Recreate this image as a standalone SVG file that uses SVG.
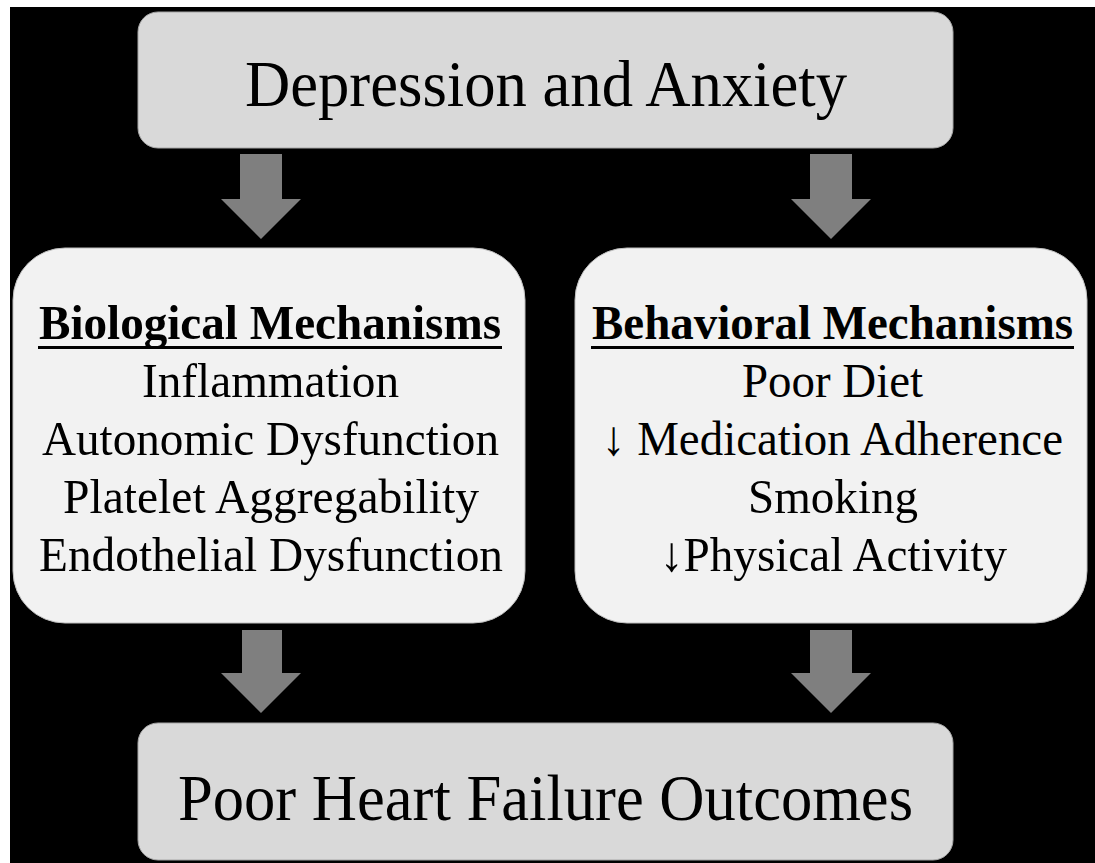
<svg xmlns="http://www.w3.org/2000/svg" width="1095" height="863" viewBox="0 0 1095 863">
<style>
.outer{fill:#d9d9d9;stroke:#a6a6a6;stroke-width:1}
.inner{fill:#f2f2f2;stroke:#bfbfbf;stroke-width:1}
.big{font-family:"Liberation Serif","Times New Roman",serif;font-size:66px;fill:#000;text-anchor:middle}
.mid{font-family:"Liberation Serif","Times New Roman",serif;font-size:49px;fill:#000;text-anchor:middle}
.hd{font-weight:bold}
.arrow{fill:#7f7f7f}
</style>
<rect x="0" y="0" width="1095" height="863" fill="#ffffff"/>
<rect x="10" y="7" width="1085" height="856" fill="#000000"/>
<g id="connectors">
<polygon class="arrow" points="240,154 282,154 282,199 301,199 261,239 221,199 240,199"/>
<polygon class="arrow" points="810,154 852,154 852,199 871,199 831,239 791,199 810,199"/>
<polygon class="arrow" points="242,630 282,630 282,673 301,673 261,713 221,673 242,673"/>
<polygon class="arrow" points="810,630 852,630 852,673 871,673 831,713 791,673 810,673"/>
</g>
<g id="depression-anxiety">
<rect class="outer" x="138" y="12" width="815" height="136" rx="20" ry="20"/>
<text class="big" x="546" y="106" textLength="602" lengthAdjust="spacingAndGlyphs">Depression and Anxiety</text>
</g>
<g id="biological-mechanisms">
<rect class="inner" x="13" y="248" width="512" height="375" rx="52" ry="52"/>
<text class="mid hd" x="270" y="339" textLength="462" lengthAdjust="spacingAndGlyphs">Biological Mechanisms</text>
<rect x="38" y="346" width="464" height="3" fill="#000"/>
<text class="mid" x="270.5" y="397" textLength="257" lengthAdjust="spacingAndGlyphs">Inflammation</text>
<text class="mid" x="270.5" y="455" textLength="457" lengthAdjust="spacingAndGlyphs">Autonomic Dysfunction</text>
<text class="mid" x="271" y="513" textLength="416" lengthAdjust="spacingAndGlyphs">Platelet Aggregability</text>
<text class="mid" x="271" y="571" textLength="464" lengthAdjust="spacingAndGlyphs">Endothelial Dysfunction</text>
</g>
<g id="behavioral-mechanisms">
<rect class="inner" x="575" y="248" width="512" height="375" rx="52" ry="52"/>
<text class="mid hd" x="832.5" y="339" textLength="481" lengthAdjust="spacingAndGlyphs">Behavioral Mechanisms</text>
<rect x="591" y="346" width="483" height="3" fill="#000"/>
<text class="mid" x="832.5" y="397" textLength="181" lengthAdjust="spacingAndGlyphs">Poor Diet</text>
<text class="mid" x="832.5" y="455" textLength="461" lengthAdjust="spacingAndGlyphs">↓ Medication Adherence</text>
<text class="mid" x="833" y="513" textLength="170" lengthAdjust="spacingAndGlyphs">Smoking</text>
<text class="mid" x="833.5" y="571" textLength="347" lengthAdjust="spacingAndGlyphs">↓Physical Activity</text>
</g>
<g id="poor-hf-outcomes">
<rect class="outer" x="138" y="723" width="815" height="137" rx="20" ry="20"/>
<text class="big" x="545.5" y="820" textLength="735" lengthAdjust="spacingAndGlyphs">Poor Heart Failure Outcomes</text>
</g>
</svg>
